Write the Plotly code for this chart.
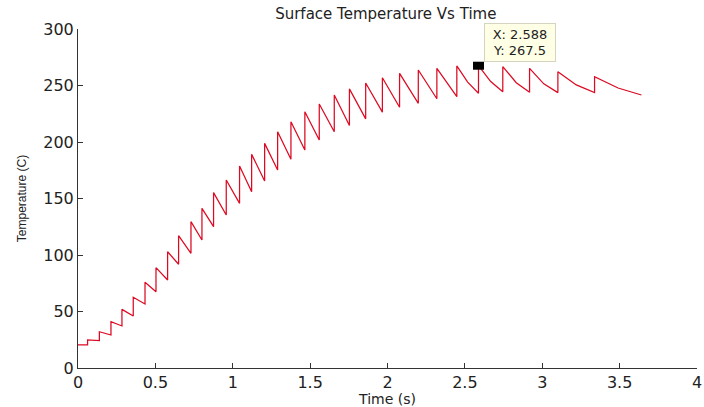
import plotly.graph_objects as go

# ---- data ----
t_start, T_start = 0.0, 20.4
jump_times = [0.062, 0.138, 0.213, 0.284, 0.357, 0.433, 0.504, 0.579, 0.650, 0.730,
              0.801, 0.876, 0.958, 1.044, 1.122, 1.206, 1.290, 1.376, 1.466, 1.559,
              1.656, 1.754, 1.859, 1.967, 2.078, 2.199, 2.319, 2.448, 2.588, 2.745,
              2.918, 3.101, 3.338]
temp_before = [20.4, 24.2, 29.2, 37.2, 46.0, 56.6, 67.5, 77.9, 91.8, 101.5,
               113.3, 125.1, 135.4, 145.7, 156.0, 165.5, 175.2, 184.7, 192.9, 201.8,
               209.1, 214.6, 220.5, 226.4, 230.7, 234.2, 238.3, 240.1, 243.1, 244.5,
               244.0, 243.7, 243.7]
temp_after = [24.8, 32.1, 41.0, 51.9, 62.6, 75.8, 88.8, 102.9, 117.1, 129.5,
              141.3, 155.2, 166.4, 178.8, 189.1, 198.8, 209.1, 218.0, 226.8, 233.6,
              241.6, 247.0, 252.2, 256.9, 260.8, 263.7, 265.2, 267.3, 267.5, 266.7,
              265.2, 262.2, 257.8]
# mid-decay readings where the cooling curve visibly bends
decay_mid_times = [2.518, 2.667, 2.832, 3.010, 3.220, 3.490]
decay_mid_temps = [253.0, 253.5, 252.5, 251.5, 250.5, 247.8]
t_end, T_end = 3.641, 241.6

tip_x, tip_y = 2.588, 267.5

x_ticks = [0, 0.5, 1, 1.5, 2, 2.5, 3, 3.5, 4]
y_ticks = [0, 50, 100, 150, 200, 250, 300]

# build the sawtooth path
mids = list(zip(decay_mid_times, decay_mid_temps))
next_times = jump_times[1:] + [t_end]
xs = [t_start]
ys = [T_start]
for t, a, b, tn in zip(jump_times, temp_before, temp_after, next_times):
    xs += [t, t]
    ys += [a, b]
    for mt, mT in mids:
        if t < mt < tn:
            xs.append(mt)
            ys.append(mT)
xs.append(t_end)
ys.append(T_end)

FONT = "DejaVu Sans, Verdana, sans-serif"
FONT2 = "Liberation Sans, Arial, sans-serif"
TXT = "#222"

fig = go.Figure()
fig.add_trace(go.Scatter(x=xs, y=ys, mode="lines",
                         line=dict(color="#dc0a22", width=1.25),
                         hoverinfo="skip", showlegend=False))

# data tip marker
fig.add_shape(type="rect", xref="x", yref="y", xsizemode="pixel", ysizemode="pixel",
              xanchor=tip_x, yanchor=tip_y, x0=-5.5, x1=5.5, y0=-4, y1=4,
              fillcolor="black", line=dict(width=0))
fig.add_annotation(x=tip_x, y=tip_y, xref="x", yref="y",
                   text=f"X: {tip_x}<br>Y: {tip_y}", align="center",
                   width=68, height=35,
                   showarrow=True, arrowcolor="rgba(0,0,0,0)", arrowwidth=0.1,
                   ax=42, ay=-23, bgcolor="#ffffe6", bordercolor="#d4d4c0",
                   borderwidth=1, borderpad=1,
                   font=dict(family=FONT, size=13, color=TXT))

axis_common = dict(showgrid=False, zeroline=False, showline=True, linecolor="#333",
                   linewidth=1, ticks="inside", ticklen=5, tickcolor="#333",
                   automargin=False, ticklabeloverflow="allow",
                   tickfont=dict(family=FONT, size=16, color=TXT))

fig.update_layout(
    width=704, height=407,
    margin=dict(l=78, r=7, t=29, b=39),
    paper_bgcolor="white", plot_bgcolor="white",
    title=dict(text="Surface Temperature Vs Time", x=0.548, xanchor="center",
               y=0.9656, yanchor="middle", pad=dict(t=0, b=0),
               font=dict(family=FONT, size=15, color=TXT)),
    xaxis=dict(range=[0, 4], tickvals=x_ticks, ticktext=[f"{v:g}" for v in x_ticks],
               title=dict(text="Time (s)", standoff=0,
                          font=dict(family=FONT, size=14, color=TXT)),
               **axis_common),
    yaxis=dict(range=[0, 300], tickvals=y_ticks,
               title=dict(text="Temperature (C)", standoff=14,
                          font=dict(family=FONT2, size=12, color=TXT)),
               **axis_common),
)

# remove the default page margin so the 704x407 figure fills the window exactly
fig.write_html("out.html",
               config={"displayModeBar": False},
               post_script="document.body.style.margin='0';"
                           "document.body.style.overflow='hidden';")
